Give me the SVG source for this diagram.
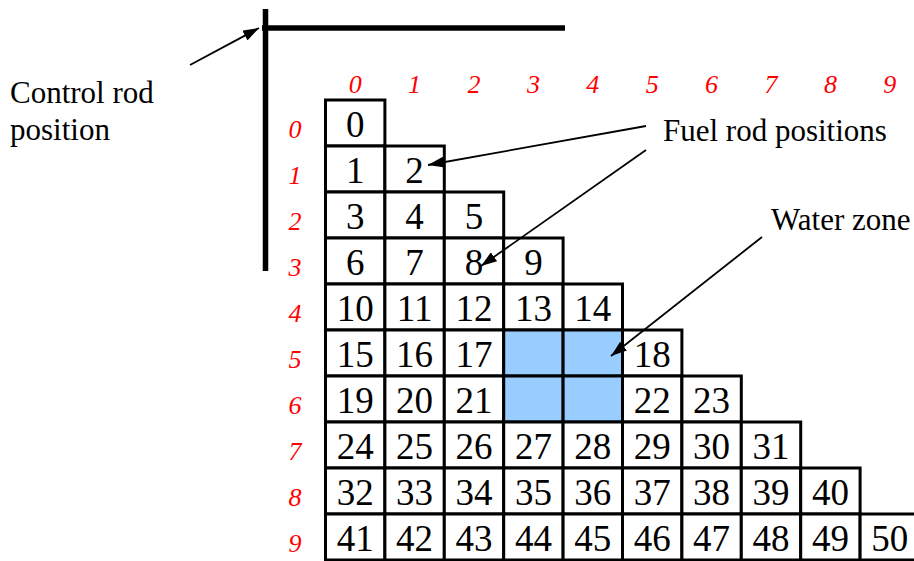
<svg xmlns="http://www.w3.org/2000/svg" width="914" height="561" viewBox="0 0 914 561">
<style>
.c rect{fill:#fff;stroke:#000;stroke-width:3}
.c rect.w{fill:#99CCFF}
.c text{font-family:"Liberation Serif","Times New Roman",serif;font-size:37px;text-anchor:middle;fill:#000}
.idx{font-family:"Liberation Serif","Times New Roman",serif;font-size:26px;font-style:italic;fill:#ff0000;text-anchor:middle}
.lbl{font-family:"Liberation Serif","Times New Roman",serif;font-size:31px;fill:#000}
.conn line{stroke:#000;stroke-width:1.8;fill:none}
.rod{stroke:#000;stroke-width:5.5;fill:none}
</style>
<defs>
<marker id="ah" markerUnits="userSpaceOnUse" markerWidth="16" markerHeight="11" refX="16" refY="5.5" orient="auto">
<path d="M0,0 L16,5.5 L0,11 z" fill="#000"/>
</marker>
</defs>
<g id="control-rod">
<line class="rod" x1="265.5" y1="9" x2="265.5" y2="271"/>
<line class="rod" x1="262" y1="28" x2="565" y2="28"/>
</g>
<g id="labels">
<text class="lbl" x="10" y="103">Control rod</text>
<text class="lbl" x="10" y="140">position</text>
<text class="lbl" x="663" y="141">Fuel rod positions</text>
<text class="lbl" x="771" y="230">Water zone</text>
</g>
<g id="col-index">
<text class="idx" x="355.2" y="93">0</text>
<text class="idx" x="414.6" y="93">1</text>
<text class="idx" x="474" y="93">2</text>
<text class="idx" x="533.4" y="93">3</text>
<text class="idx" x="592.8" y="93">4</text>
<text class="idx" x="652.2" y="93">5</text>
<text class="idx" x="711.6" y="93">6</text>
<text class="idx" x="771" y="93">7</text>
<text class="idx" x="830.4" y="93">8</text>
<text class="idx" x="889.8" y="93">9</text>
</g>
<g id="row-index">
<text class="idx" x="295" y="138">0</text>
<text class="idx" x="295" y="184">1</text>
<text class="idx" x="295" y="230">2</text>
<text class="idx" x="295" y="276">3</text>
<text class="idx" x="295" y="322">4</text>
<text class="idx" x="295" y="368">5</text>
<text class="idx" x="295" y="414">6</text>
<text class="idx" x="295" y="460">7</text>
<text class="idx" x="295" y="506">8</text>
<text class="idx" x="295" y="552">9</text>
</g>
<g class="c">
<g id="cell0"><rect x="325.5" y="100" width="59.4" height="46"/><text x="355.2" y="137">0</text></g>
<g id="cell1"><rect x="325.5" y="146" width="59.4" height="46"/><text x="355.2" y="183">1</text></g>
<g id="cell2"><rect x="384.9" y="146" width="59.4" height="46"/><text x="414.6" y="183">2</text></g>
<g id="cell3"><rect x="325.5" y="192" width="59.4" height="46"/><text x="355.2" y="229">3</text></g>
<g id="cell4"><rect x="384.9" y="192" width="59.4" height="46"/><text x="414.6" y="229">4</text></g>
<g id="cell5"><rect x="444.3" y="192" width="59.4" height="46"/><text x="474" y="229">5</text></g>
<g id="cell6"><rect x="325.5" y="238" width="59.4" height="46"/><text x="355.2" y="275">6</text></g>
<g id="cell7"><rect x="384.9" y="238" width="59.4" height="46"/><text x="414.6" y="275">7</text></g>
<g id="cell8"><rect x="444.3" y="238" width="59.4" height="46"/><text x="474" y="275">8</text></g>
<g id="cell9"><rect x="503.7" y="238" width="59.4" height="46"/><text x="533.4" y="275">9</text></g>
<g id="cell10"><rect x="325.5" y="284" width="59.4" height="46"/><text x="355.2" y="321">10</text></g>
<g id="cell11"><rect x="384.9" y="284" width="59.4" height="46"/><text x="414.6" y="321">11</text></g>
<g id="cell12"><rect x="444.3" y="284" width="59.4" height="46"/><text x="474" y="321">12</text></g>
<g id="cell13"><rect x="503.7" y="284" width="59.4" height="46"/><text x="533.4" y="321">13</text></g>
<g id="cell14"><rect x="563.1" y="284" width="59.4" height="46"/><text x="592.8" y="321">14</text></g>
<g id="cell15"><rect x="325.5" y="330" width="59.4" height="46"/><text x="355.2" y="367">15</text></g>
<g id="cell16"><rect x="384.9" y="330" width="59.4" height="46"/><text x="414.6" y="367">16</text></g>
<g id="cell17"><rect x="444.3" y="330" width="59.4" height="46"/><text x="474" y="367">17</text></g>
<g id="water-5-3"><rect class="w" x="503.7" y="330" width="59.4" height="46"/></g>
<g id="water-5-4"><rect class="w" x="563.1" y="330" width="59.4" height="46"/></g>
<g id="cell18"><rect x="622.5" y="330" width="59.4" height="46"/><text x="652.2" y="367">18</text></g>
<g id="cell19"><rect x="325.5" y="376" width="59.4" height="46"/><text x="355.2" y="413">19</text></g>
<g id="cell20"><rect x="384.9" y="376" width="59.4" height="46"/><text x="414.6" y="413">20</text></g>
<g id="cell21"><rect x="444.3" y="376" width="59.4" height="46"/><text x="474" y="413">21</text></g>
<g id="water-6-3"><rect class="w" x="503.7" y="376" width="59.4" height="46"/></g>
<g id="water-6-4"><rect class="w" x="563.1" y="376" width="59.4" height="46"/></g>
<g id="cell22"><rect x="622.5" y="376" width="59.4" height="46"/><text x="652.2" y="413">22</text></g>
<g id="cell23"><rect x="681.9" y="376" width="59.4" height="46"/><text x="711.6" y="413">23</text></g>
<g id="cell24"><rect x="325.5" y="422" width="59.4" height="46"/><text x="355.2" y="459">24</text></g>
<g id="cell25"><rect x="384.9" y="422" width="59.4" height="46"/><text x="414.6" y="459">25</text></g>
<g id="cell26"><rect x="444.3" y="422" width="59.4" height="46"/><text x="474" y="459">26</text></g>
<g id="cell27"><rect x="503.7" y="422" width="59.4" height="46"/><text x="533.4" y="459">27</text></g>
<g id="cell28"><rect x="563.1" y="422" width="59.4" height="46"/><text x="592.8" y="459">28</text></g>
<g id="cell29"><rect x="622.5" y="422" width="59.4" height="46"/><text x="652.2" y="459">29</text></g>
<g id="cell30"><rect x="681.9" y="422" width="59.4" height="46"/><text x="711.6" y="459">30</text></g>
<g id="cell31"><rect x="741.3" y="422" width="59.4" height="46"/><text x="771" y="459">31</text></g>
<g id="cell32"><rect x="325.5" y="468" width="59.4" height="46"/><text x="355.2" y="505">32</text></g>
<g id="cell33"><rect x="384.9" y="468" width="59.4" height="46"/><text x="414.6" y="505">33</text></g>
<g id="cell34"><rect x="444.3" y="468" width="59.4" height="46"/><text x="474" y="505">34</text></g>
<g id="cell35"><rect x="503.7" y="468" width="59.4" height="46"/><text x="533.4" y="505">35</text></g>
<g id="cell36"><rect x="563.1" y="468" width="59.4" height="46"/><text x="592.8" y="505">36</text></g>
<g id="cell37"><rect x="622.5" y="468" width="59.4" height="46"/><text x="652.2" y="505">37</text></g>
<g id="cell38"><rect x="681.9" y="468" width="59.4" height="46"/><text x="711.6" y="505">38</text></g>
<g id="cell39"><rect x="741.3" y="468" width="59.4" height="46"/><text x="771" y="505">39</text></g>
<g id="cell40"><rect x="800.7" y="468" width="59.4" height="46"/><text x="830.4" y="505">40</text></g>
<g id="cell41"><rect x="325.5" y="514" width="59.4" height="46"/><text x="355.2" y="551">41</text></g>
<g id="cell42"><rect x="384.9" y="514" width="59.4" height="46"/><text x="414.6" y="551">42</text></g>
<g id="cell43"><rect x="444.3" y="514" width="59.4" height="46"/><text x="474" y="551">43</text></g>
<g id="cell44"><rect x="503.7" y="514" width="59.4" height="46"/><text x="533.4" y="551">44</text></g>
<g id="cell45"><rect x="563.1" y="514" width="59.4" height="46"/><text x="592.8" y="551">45</text></g>
<g id="cell46"><rect x="622.5" y="514" width="59.4" height="46"/><text x="652.2" y="551">46</text></g>
<g id="cell47"><rect x="681.9" y="514" width="59.4" height="46"/><text x="711.6" y="551">47</text></g>
<g id="cell48"><rect x="741.3" y="514" width="59.4" height="46"/><text x="771" y="551">48</text></g>
<g id="cell49"><rect x="800.7" y="514" width="59.4" height="46"/><text x="830.4" y="551">49</text></g>
<g id="cell50"><rect x="860.1" y="514" width="59.4" height="46"/><text x="889.8" y="551">50</text></g>
</g>
<g id="connectors" class="conn">
<line x1="190" y1="65" x2="259" y2="28" marker-end="url(#ah)"/>
<line x1="646" y1="126" x2="428" y2="165" marker-end="url(#ah)"/>
<line x1="646" y1="150" x2="481" y2="266" marker-end="url(#ah)"/>
<line x1="762" y1="237" x2="611" y2="356" marker-end="url(#ah)"/>
</g>
</svg>
